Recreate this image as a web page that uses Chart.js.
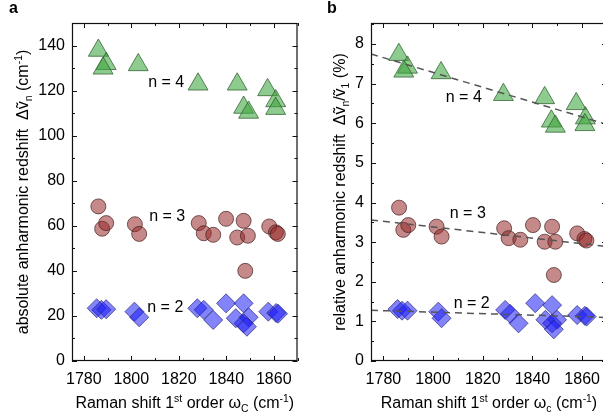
<!DOCTYPE html>
<html>
<head>
<meta charset="utf-8">
<script src="https://cdn.jsdelivr.net/npm/chart.js"></script>
<style>
  html, body { margin: 0; padding: 0; background: #fff; overflow: hidden; width: 603px; height: 417px; }
  canvas { position: absolute; top: 0; }
  #chartA { left: 0; }
  #chartB { left: 310px; }
</style>
</head>
<body>
<canvas id="chartA" width="310" height="417"></canvas>
<canvas id="chartB" width="310" height="417"></canvas>
<script>
// Raman shift of 1st order peak (cm-1) and redshifts
const n4AbsX = [1786.1, 1789.4, 1788.1, 1802.9, 1828.1, 1844.6, 1847.3, 1849.4, 1857.4, 1860.8, 1860.8];
const n4AbsY = [137.8, 131.9, 129.9, 131.4, 122.8, 122.8, 112.5, 110.3, 120.3, 115.4, 112.0];
const n3AbsX = [1786.1, 1787.7, 1789.4, 1801.5, 1803.3, 1828.4, 1830.5, 1834.5, 1839.9, 1844.6, 1847.3, 1849.1, 1848.0, 1858.1, 1860.9, 1861.7];
const n3AbsY = [68.6, 58.7, 61.2, 60.7, 56.4, 61.2, 56.7, 56.0, 63.1, 54.8, 62.2, 55.6, 40.0, 59.7, 57.1, 56.4];
const n2AbsX = [1785.4, 1787.4, 1789.4, 1801.3, 1803.3, 1827.8, 1830.5, 1834.5, 1839.9, 1844.0, 1847.3, 1849.4, 1847.3, 1848.7, 1857.7, 1861.0, 1861.8];
const n2AbsY = [23.4, 22.7, 23.0, 21.9, 19.4, 23.4, 22.7, 18.2, 25.6, 19.0, 25.6, 19.4, 16.7, 15.2, 21.9, 21.3, 21.0];

const n4RelX = [1786.2, 1789.7, 1788.2, 1803.2, 1828.3, 1844.9, 1847.6, 1849.2, 1857.6, 1861.3, 1861.1];
const n4RelY = [7.73, 7.41, 7.31, 7.27, 6.72, 6.64, 6.05, 5.92, 6.49, 6.13, 5.96];
const n3RelX = [1786.3, 1788.0, 1790.0, 1801.4, 1803.4, 1828.6, 1830.4, 1835.1, 1840.2, 1844.9, 1847.9, 1849.2, 1848.6, 1858.0, 1860.9, 1861.7];
const n3RelY = [3.87, 3.31, 3.43, 3.39, 3.14, 3.35, 3.10, 3.06, 3.43, 3.01, 3.39, 3.01, 2.17, 3.22, 3.08, 3.04];
const n2RelX = [1785.7, 1787.5, 1789.7, 1802.1, 1803.4, 1829.0, 1831.0, 1834.4, 1841.1, 1847.9, 1845.2, 1849.9, 1847.9, 1848.6, 1858.0, 1861.1, 1861.8];
const n2RelY = [1.31, 1.27, 1.27, 1.245, 1.08, 1.29, 1.19, 0.95, 1.46, 1.41, 1.04, 1.04, 0.95, 0.80, 1.16, 1.14, 1.12];

// linear fits (panel b)
const fitX = [1775, 1870];
const n4FitY = [7.75, 5.97];
const n3FitY = [3.56, 2.89];
const n2FitY = [1.28, 1.10];

// tick labels
const xTicks = [1780, 1800, 1820, 1840, 1860];
const yTicksAbs = [0, 20, 40, 60, 80, 100, 120, 140];
const yTicksRel = [0, 1, 2, 3, 4, 5, 6, 7, 8];

const FONT = "'Liberation Sans', Arial, Helvetica, sans-serif";

const pts = (xs, ys) => xs.map((x, i) => ({ x: x, y: ys[i] }));

function scatterSet(label, data, style) {
    const st = {
        n4: { shape: 'triangle', r: 11.5, bg: 'rgba(60,165,60,0.58)', bd: 'rgba(45,95,45,0.75)' },
        n3: { shape: 'circle', r: 7.5, bg: 'rgba(150,40,40,0.55)', bd: 'rgba(70,30,30,0.7)' },
        n2: { shape: 'rectRot', r: 9.5, bg: 'rgba(30,30,245,0.55)', bd: 'rgba(40,40,130,0.7)' }
    }[style];
    return {
        type: 'scatter',
        label: label,
        data: data,
        pointStyle: st.shape,
        pointRadius: st.r,
        pointBackgroundColor: st.bg,
        pointBorderColor: st.bd,
        pointBorderWidth: 1,
        showLine: false,
        order: 1
    };
}

function fitSet(ys) {
    return {
        type: 'line',
        data: pts(fitX, ys),
        borderColor: '#555',
        borderWidth: 1.5,
        borderDash: [7, 5],
        pointRadius: 0,
        fill: false,
        order: 0
    };
}

// draws a string made of pieces, some of them sub- or superscript
function drawRich(ctx, segs, x, y, size, align) {
    let w = 0;
    const parts = segs.map(s => {
        const fs = s[1] ? size * 0.65 : size;
        ctx.font = fs + 'px ' + FONT;
        const pw = ctx.measureText(s[0]).width;
        w += pw;
        return { t: s[0], fs: fs, w: pw, dy: s[1] === 'sub' ? size * 0.28 : (s[1] === 'sup' ? -size * 0.38 : 0) };
    });
    let cx = align === 'center' ? x - w / 2 : x;
    ctx.textAlign = 'left';
    ctx.textBaseline = 'alphabetic';
    parts.forEach(p => {
        ctx.font = p.fs + 'px ' + FONT;
        ctx.fillText(p.t, cx, y + p.dy);
        cx += p.w;
    });
}

const framePlugin = {
    id: 'frame',
    afterDatasetsDraw(chart, args, opts) {
        const { ctx, chartArea: a, scales } = chart;
        const xs = scales.x, ys = scales.y;
        ctx.save();
        ctx.strokeStyle = '#111';
        ctx.lineWidth = 1.2;
        ctx.strokeRect(a.left + 0.5, a.top + 0.5, a.right - a.left - 1, a.bottom - a.top - 1);
        ctx.lineWidth = 1;
        ctx.beginPath();
        for (let v = opts.xFrom; v <= xs.max + 1e-9; v += opts.xStep) {
            const p = Math.round(xs.getPixelForValue(v)) + 0.5;
            const len = Math.abs((v - opts.xFrom) % opts.xMajor) < 1e-6 ? 5 : 3;
            ctx.moveTo(p, a.bottom); ctx.lineTo(p, a.bottom - len);
            ctx.moveTo(p, a.top); ctx.lineTo(p, a.top + len);
        }
        for (let v = 0; v <= ys.max + 1e-9; v += opts.yStep) {
            const p = Math.round(ys.getPixelForValue(v)) + 0.5;
            const len = Math.abs(Math.round(v / opts.yStep) % 2) === 0 ? 5 : 3;
            ctx.moveTo(a.left, p); ctx.lineTo(a.left + len, p);
            ctx.moveTo(a.right, p); ctx.lineTo(a.right - len, p);
        }
        ctx.stroke();

        // text labels
        ctx.fillStyle = '#000';
        ctx.font = '16px ' + FONT;
        ctx.textBaseline = 'middle';
        ctx.textAlign = 'left';
        opts.notes.forEach(n => {
            ctx.fillText(n[0], xs.getPixelForValue(n[1]), ys.getPixelForValue(n[2]));
        });
        ctx.restore();
    },
    afterDraw(chart, args, opts) {
        const { ctx, chartArea: a } = chart;
        ctx.save();
        ctx.fillStyle = '#000';
        ctx.font = 'bold 16px ' + FONT;
        ctx.textAlign = 'left';
        ctx.textBaseline = 'alphabetic';
        ctx.fillText(opts.letter, opts.letterX, 13);
        drawRich(ctx, opts.xTitle, (a.left + a.right) / 2, 408, 16, 'center');
        ctx.translate(opts.yTitleX, (a.top + a.bottom) / 2);
        ctx.rotate(-Math.PI / 2);
        drawRich(ctx, opts.yTitle, 0, 0, 16, 'center');
        ctx.restore();
    }
};

function makeOptions(yMax, yTicks, yStep, yWidth, padRight, deco) {
    return {
        responsive: false,
        animation: false,
        layout: { padding: { top: 23, right: padRight, left: 0, bottom: 0 } },
        plugins: {
            legend: { display: false },
            tooltip: { enabled: false },
            frame: Object.assign({ xFrom: 1780, xStep: 10, xMajor: 20, yStep: yStep }, deco)
        },
        scales: {
            x: {
                type: 'linear',
                min: 1775,
                max: 1870,
                grid: { display: false, drawTicks: false },
                border: { display: false },
                afterBuildTicks: s => { s.ticks = xTicks.map(v => ({ value: v })); },
                afterFit: s => { s.height = 56; },
                ticks: {
                    padding: 9,
                    color: '#000',
                    font: { family: FONT, size: 16 },
                    maxRotation: 0,
                    callback: v => String(v)
                }
            },
            y: {
                type: 'linear',
                min: 0,
                max: yMax,
                grid: { display: false, drawTicks: false },
                border: { display: false },
                afterBuildTicks: s => { s.ticks = yTicks.map(v => ({ value: v })); },
                afterFit: s => { s.width = yWidth; },
                ticks: {
                    padding: 7,
                    color: '#000',
                    font: { family: FONT, size: 16 },
                    callback: v => String(v)
                }
            }
        }
    };
}

new Chart(document.getElementById('chartA'), {
    type: 'scatter',
    data: {
        datasets: [
            scatterSet('n = 4', pts(n4AbsX, n4AbsY), 'n4'),
            scatterSet('n = 3', pts(n3AbsX, n3AbsY), 'n3'),
            scatterSet('n = 2', pts(n2AbsX, n2AbsY), 'n2')
        ]
    },
    options: makeOptions(150, yTicksAbs, 10, 72, 2, {
        letter: 'a',
        letterX: 9,
        yTitleX: 28,
        notes: [['n = 4', 1807.1, 123.6], ['n = 3', 1807.5, 64], ['n = 2', 1806.7, 23.6]],
        xTitle: [['Raman shift 1'], ['st', 'sup'], [' order \u03c9'], ['C', 'sub'], [' (cm'], ['-1', 'sup'], [')']],
        yTitle: [['absolute anharmonic redshift  \u0394\u1e7d'], ['n', 'sub'], [' (cm'], ['-1', 'sup'], [')']]
    }),
    plugins: [framePlugin]
});

new Chart(document.getElementById('chartB'), {
    type: 'scatter',
    data: {
        datasets: [
            scatterSet('n = 4', pts(n4RelX, n4RelY), 'n4'),
            scatterSet('n = 3', pts(n3RelX, n3RelY), 'n3'),
            scatterSet('n = 2', pts(n2RelX, n2RelY), 'n2'),
            fitSet(n4FitY),
            fitSet(n3FitY),
            fitSet(n2FitY)
        ]
    },
    options: makeOptions(8.53, yTicksRel, 0.5, 61, 13, {
        letter: 'b',
        letterX: 17,
        yTitleX: 35,
        notes: [['n = 4', 1805.1, 6.64], ['n = 3', 1806.7, 3.71], ['n = 2', 1808.3, 1.44]],
        xTitle: [['Raman shift 1'], ['st', 'sup'], [' order \u03c9'], ['c', 'sub'], [' (cm'], ['-1', 'sup'], [')']],
        yTitle: [['relative anharmonic redshift  \u0394\u1e7d'], ['n', 'sub'], ['/\u1e7d'], ['1', 'sub'], [' (%)']]
    }),
    plugins: [framePlugin]
});
</script>
</body>
</html>
